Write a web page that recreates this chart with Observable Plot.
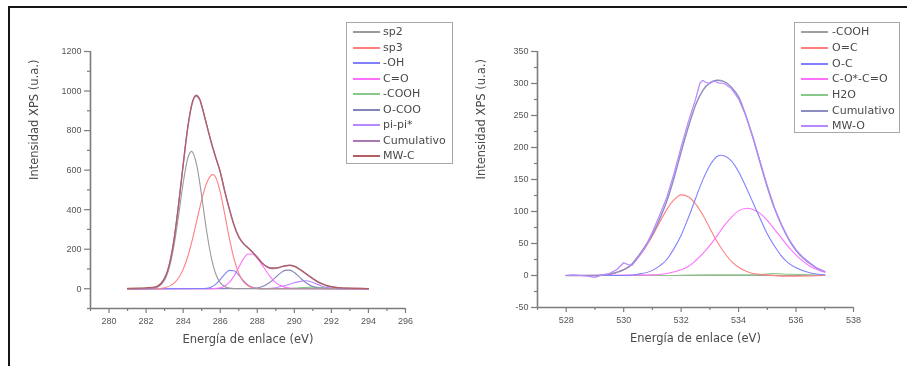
<!DOCTYPE html>
<html><head><meta charset="utf-8">
<script src="https://cdn.jsdelivr.net/npm/d3@7"></script>
<script src="https://cdn.jsdelivr.net/npm/@observablehq/plot@0.6"></script>
<style>
body{margin:0;background:#fff;}
#wrap{position:relative;width:907px;height:366px;overflow:hidden;background:#fff;filter:blur(0.45px);}
.frameTop{position:absolute;left:8px;top:6px;width:899px;height:2px;background:#161616;}
.frameLeft{position:absolute;left:8px;top:6px;width:2px;height:360px;background:#161616;}
.panel{position:absolute;top:0;}
.legend{position:absolute;border:1px solid #a8a8a8;background:#fff;font-family:"DejaVu Sans",sans-serif;font-size:11px;color:#4a4a4a;box-sizing:border-box;}
.legend .row{position:absolute;left:0;height:14px;line-height:14px;white-space:nowrap;}
.legend .sw{position:absolute;top:6px;width:27px;height:2px;}
.legend .lab{position:absolute;top:0;}
</style></head>
<body>
<div id="wrap">
  <div class="frameTop"></div>
  <div class="frameLeft"></div>
  <div id="p1" class="panel" style="left:0px"></div>
  <div id="p2" class="panel" style="left:453px"></div>
  <div id="leg1" class="legend" style="left:346px;top:22px;width:107px;height:142px"></div>
  <div id="leg2" class="legend" style="left:794px;top:22px;width:106px;height:111px"></div>
</div>
<script>
// ---------- Left panel (C 1s) ----------
const xTicksL = [280, 282, 284, 286, 288, 290, 292, 294, 296];
const xMinorL = [279, 281, 283, 285, 287, 289, 291, 293, 295];
const yTicksL = [0, 200, 400, 600, 800, 1000, 1200];
const yMinorL = [-100, 100, 300, 500, 700, 900, 1100];

const sp2E = [281, 282.5, 283, 283.25, 283.5, 283.75, 284, 284.25, 284.45, 284.75, 285, 285.25, 285.5, 285.75, 286, 286.25, 286.5, 287, 294];
const sp2I = [0, 5, 45, 107, 215, 368, 534, 660, 695, 618, 469, 302, 166, 77, 31, 10, 3, 0, 0];

const sp3E = [281, 282.5, 283, 283.5, 283.75, 284, 284.25, 284.5, 284.75, 285, 285.25, 285.6, 285.75, 286, 286.25, 286.5, 286.75, 287, 287.25, 287.5, 287.75, 288, 288.5, 294];
const sp3I = [0, 0, 5, 27, 54, 98, 163, 250, 350, 450, 530, 577, 564, 490, 375, 252, 150, 78, 36, 15, 5, 2, 0, 0];

const ohE = [281, 285, 285.25, 285.5, 285.75, 286, 286.25, 286.5, 286.75, 287, 287.25, 287.5, 287.75, 288, 288.25, 294];
const ohI = [0, 1, 2, 8, 22, 46, 74, 93, 91, 69, 41, 19, 7, 2, 0, 0];

const coE = [281, 285.5, 285.75, 286, 286.25, 286.5, 286.75, 287, 287.25, 287.5, 287.75, 288, 288.25, 288.5, 288.75, 289, 289.25, 289.5, 289.75, 290, 294];
const coI = [0, 0, 2, 5, 14, 33, 65, 108, 150, 176, 174, 154, 122, 87, 55, 31, 16, 7, 3, 1, 0];

const coohCE = [281, 289.5, 290, 290.5, 291, 291.5, 292, 292.5, 293, 294];
const coohCI = [0, 1, 3, 6, 8, 6, 3, 1, 0, 0];

const ocooE = [281, 287.75, 288, 288.25, 288.5, 288.75, 289, 289.25, 289.5, 289.75, 290, 290.25, 290.5, 290.75, 291, 291.25, 291.5, 291.75, 294];
const ocooI = [0, 1, 4, 10, 21, 37, 59, 79, 93, 94, 82, 61, 40, 23, 11, 5, 2, 0, 0];

const pipiE = [281, 288.5, 289, 289.5, 289.75, 290, 290.25, 290.6, 290.75, 291, 291.25, 291.5, 291.75, 292, 292.5, 294];
const pipiI = [0, 1, 5, 16, 23, 30, 36, 40, 39, 32, 22, 13, 6, 3, 0, 0];

const cumCE = [281, 281.5, 282, 282.5, 283, 283.25, 283.5, 283.75, 284, 284.25, 284.5, 284.7, 284.9, 285, 285.25, 285.5, 285.75, 286, 286.25, 286.5, 286.75, 287, 287.25, 287.5, 287.75, 288, 288.25, 288.5, 288.75, 289, 289.25, 289.5, 289.75, 290, 290.25, 290.5, 290.75, 291, 291.25, 291.5, 291.75, 292, 292.5, 293, 293.5, 294];
const cumCI = [0, 0, 1, 6, 50, 118, 242, 422, 625, 815, 942, 975, 955, 925, 835, 745, 665, 590, 490, 400, 320, 262, 228, 207, 185, 160, 132, 112, 102, 103, 109, 116, 119, 114, 101, 85, 68, 51, 36, 24, 15, 10, 4, 2, 1, 0];
const mwcI  = [2, 3, 5, 10, 55, 122, 245, 425, 628, 818, 945, 980, 958, 928, 838, 748, 668, 593, 492, 402, 322, 264, 229, 207, 184, 158, 131, 113, 105, 105, 110, 116, 118, 113, 100, 84, 67, 51, 36, 25, 16, 11, 5, 3, 2, 1];

const namesL = ["sp2", "sp3", "-OH", "C=O", "-COOH", "O-COO", "pi-pi*", "Cumulativo", "MW-C"];
const colorsL = ["#9a9a9a", "#ff8080", "#8080ff", "#ff70ff", "#88c888", "#8484bc", "#b888ff", "#a878b0", "#b06060"];

// ---------- Right panel (O 1s) ----------
const xTicksR = [528, 530, 532, 534, 536, 538];
const xMinorR = [527, 529, 531, 533, 535, 537];
const yTicksR = [-50, 0, 50, 100, 150, 200, 250, 300, 350];
const yMinorR = [-25, 25, 75, 125, 175, 225, 275, 325];

const coohOE = [528, 537];
const coohOI = [0, 0];

const oeqcE = [528, 529, 529.5, 530, 530.25, 530.5, 530.75, 531, 531.25, 531.5, 531.75, 532, 532.25, 532.5, 532.75, 533, 533.25, 533.5, 533.75, 534, 534.25, 534.5, 535, 535.5, 536, 537];
const oeqcI = [0, 0, 2, 9, 16, 28, 43, 62, 83, 103, 118, 126, 123, 112, 95, 74, 53, 36, 22, 13, 7, 3, 1, -1, -1, 0];

const ocE = [528, 530, 530.5, 531, 531.25, 531.5, 531.75, 532, 532.25, 532.5, 532.75, 533, 533.25, 533.4, 533.5, 533.75, 534, 534.25, 534.5, 534.75, 535, 535.25, 535.5, 535.75, 536, 536.5, 537];
const ocI = [0, 0, 2, 8, 15, 25, 42, 63, 90, 120, 149, 172, 186, 188, 187, 179, 162, 139, 114, 89, 65, 46, 30, 19, 12, 4, 1];

const cocoE = [528, 531, 531.5, 532, 532.25, 532.5, 532.75, 533, 533.25, 533.5, 533.75, 534, 534.3, 534.5, 534.75, 535, 535.25, 535.5, 535.75, 536, 536.25, 536.5, 536.75, 537];
const cocoI = [0, 1, 3, 9, 14, 23, 34, 47, 62, 78, 91, 101, 105, 103, 97, 86, 72, 58, 44, 32, 22, 14, 9, 5];

const h2oE = [528, 531, 533, 534.5, 535.25, 535.75, 536.5, 537];
const h2oI = [0, 0, 1, 1, 3, 2, 1, 0];

const cumOE = [528, 528.5, 529, 529.5, 530, 530.25, 530.5, 530.75, 531, 531.25, 531.5, 531.75, 532, 532.25, 532.5, 532.75, 533, 533.25, 533.5, 533.75, 534, 534.25, 534.5, 534.75, 535, 535.25, 535.5, 535.75, 536, 536.25, 536.5, 536.75, 537];
const cumOI = [0, 0, 0, 2, 9, 16, 30, 46, 64, 88, 116, 152, 193, 232, 266, 289, 301, 305, 303, 294, 279, 250, 215, 176, 138, 105, 78, 56, 39, 27, 18, 11, 6];

const mwoE = [528, 528.25, 528.5, 528.75, 529, 529.25, 529.5, 529.75, 530, 530.15, 530.3, 530.5, 530.75, 531, 531.25, 531.5, 531.75, 532, 532.25, 532.5, 532.65, 532.75, 532.85, 533, 533.15, 533.3, 533.5, 533.75, 534, 534.25, 534.5, 534.75, 535, 535.25, 535.5, 535.75, 536, 536.25, 536.5, 536.75, 537];
const mwoI = [0, 1, 0, -1, -3, 1, 3, 9, 20, 17, 16, 28, 44, 68, 94, 122, 159, 201, 240, 275, 300, 305, 302, 300, 304, 301, 300, 292, 276, 250, 217, 178, 140, 106, 79, 57, 40, 28, 19, 11, 6];

const namesR = ["-COOH", "O=C", "O-C", "C-O*-C=O", "H2O", "Cumulativo", "MW-O"];
const colorsR = ["#a0a0a0", "#ff8080", "#8080ff", "#ff70ff", "#88c888", "#8c8cc0", "#b888ff"];

const axisGray = "#7c7c7c";
const tickFont = {fontFamily: "Liberation Sans, Arial, sans-serif", fontSize: "9px", color: "#555", background: "transparent", overflow: "visible"};

function lineMark(E, I, color, width, curve) {
  return Plot.line(d3.zip(E, I), {stroke: color, strokeWidth: width, curve: curve || "monotone-x"});
}

function axes(xMajor, xMinor, yMajor, yMinor, xDom, yDom, xTitle, yTitle) {
  return [
    Plot.ruleX([xDom[0]], {stroke: axisGray, strokeWidth: 1.6}),
    Plot.ruleY([yDom[0]], {stroke: axisGray, strokeWidth: 1.6}),
    Plot.axisY({ticks: yMajor, tickSize: 6, tickPadding: 3, stroke: axisGray, strokeWidth: 1.2, label: null, tickFormat: d => String(d)}),
    Plot.axisY({ticks: yMinor, tickSize: 3, stroke: axisGray, strokeWidth: 1.2, label: null, tickFormat: () => ""}),
    Plot.axisX({ticks: xMajor, tickSize: 5, tickPadding: 4, stroke: axisGray, strokeWidth: 1.2, label: null, tickFormat: d => String(d)}),
    Plot.axisX({ticks: xMinor, tickSize: 3, stroke: axisGray, strokeWidth: 1.2, label: null, tickFormat: () => ""}),
    Plot.text([xTitle], {frameAnchor: "bottom", dy: 34, fontSize: 11.5, fontFamily: "DejaVu Sans, sans-serif", fill: "#4a4a4a"}),
    Plot.text([yTitle], {frameAnchor: "left", dx: -56, rotate: -90, fontSize: 11.5, fontFamily: "DejaVu Sans, sans-serif", fill: "#4a4a4a"})
  ];
}

const plot1 = Plot.plot({
  width: 453, height: 366,
  marginLeft: 90, marginRight: 48, marginTop: 51, marginBottom: 58,
  x: {domain: [279, 296]},
  y: {domain: [-100, 1200]},
  style: tickFont,
  marks: [
    ...axes(xTicksL, xMinorL, yTicksL, yMinorL, [279, 296], [-100, 1200], "Energía de enlace (eV)", "Intensidad XPS (u.a.)"),
    lineMark(coohCE, coohCI, colorsL[4], 1.1),
    lineMark(pipiE, pipiI, colorsL[6], 1.1),
    lineMark(ocooE, ocooI, colorsL[5], 1.1),
    lineMark(coE, coI, colorsL[3], 1.1),
    lineMark(ohE, ohI, colorsL[2], 1.1),
    lineMark(sp3E, sp3I, colorsL[1], 1.1),
    lineMark(sp2E, sp2I, colorsL[0], 1.1),
    lineMark(cumCE, cumCI, colorsL[7], 1.4),
    lineMark(cumCE, mwcI, colorsL[8], 1.2)
  ]
});
document.getElementById("p1").appendChild(plot1);

const plot2 = Plot.plot({
  width: 454, height: 366,
  marginLeft: 84, marginRight: 54, marginTop: 51, marginBottom: 59,
  x: {domain: [527, 538]},
  y: {domain: [-50, 350]},
  style: tickFont,
  marks: [
    ...axes(xTicksR, xMinorR, yTicksR, yMinorR, [527, 538], [-50, 350], "Energía de enlace (eV)", "Intensidad XPS (u.a.)"),
    lineMark(coohOE, coohOI, colorsR[0], 1.1),
    lineMark(h2oE, h2oI, colorsR[4], 1.1),
    lineMark(oeqcE, oeqcI, colorsR[1], 1.1),
    lineMark(cocoE, cocoI, colorsR[3], 1.1),
    lineMark(ocE, ocI, colorsR[2], 1.1),
    lineMark(cumOE, cumOI, colorsR[5], 1.4),
    lineMark(mwoE, mwoI, colorsR[6], 1.2, "linear")
  ]
});
document.getElementById("p2").appendChild(plot2);

function legend(id, names, colors, spacing, swLeft, textLeft) {
  const el = document.getElementById(id);
  names.forEach((n, i) => {
    const row = document.createElement("div");
    row.className = "row";
    row.style.top = Math.round(2.2 + i * spacing) + "px";
    row.style.width = "100%";
    const sw = document.createElement("div");
    sw.className = "sw";
    sw.style.left = swLeft + "px";
    sw.style.backgroundColor = colors[i];
    const t = document.createElement("span");
    t.className = "lab";
    t.style.left = textLeft + "px";
    t.textContent = n;
    row.appendChild(sw); row.appendChild(t);
    el.appendChild(row);
  });
}
legend("leg1", namesL, colorsL, 15.5, 6, 36);
legend("leg2", namesR, colorsR, 15.7, 6, 37);
</script>
</body></html>
